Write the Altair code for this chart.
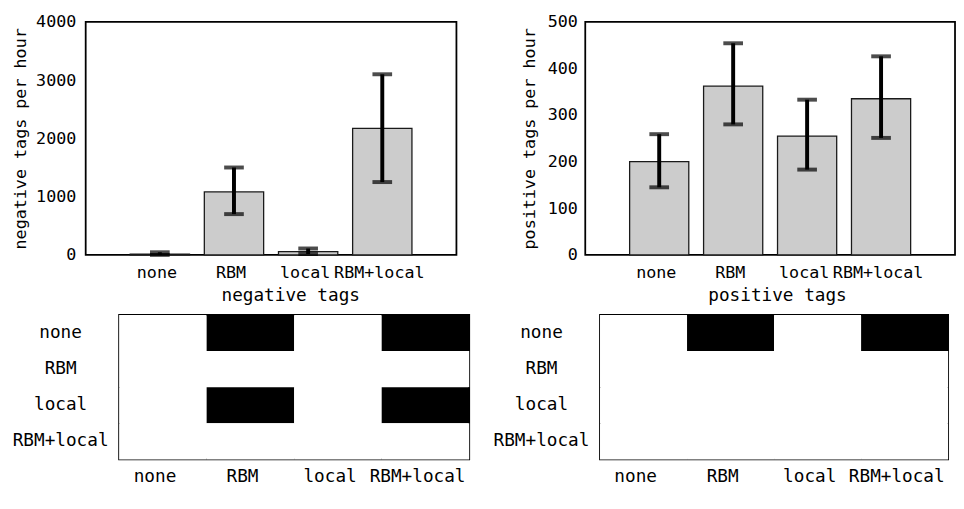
import altair as alt
import pandas as pd

categories = ["none", "RBM", "local", "RBM+local"]

neg_mean = [12, 1080, 55, 2170]
neg_lo = [0, 700, 15, 1250]
neg_hi = [45, 1500, 110, 3100]

pos_mean = [200, 362, 255, 335]
pos_lo = [145, 280, 183, 251]
pos_hi = [259, 454, 333, 426]

# significance matrices: rows x columns (1 = significant difference)
neg_sig = [
    [0, 1, 0, 1],
    [0, 0, 0, 0],
    [0, 1, 0, 1],
    [0, 0, 0, 0],
]
pos_sig = [
    [0, 1, 0, 1],
    [0, 0, 0, 0],
    [0, 0, 0, 0],
    [0, 0, 0, 0],
]

FONT = "DejaVu Sans Mono"
FS_LAB = 17
FS_XT = 18
FS_YT = 17
FS_BOT = 18


def bar_panel(mean, lo, hi, ymax, ystep, ytitle, xtitle, width, height, label_pad, extent, title_pad, title_x):
    df = pd.DataFrame({"cat": categories, "mean": mean, "lo": lo, "hi": hi})
    xscale = alt.Scale(paddingInner=0.2, paddingOuter=0.6)
    yvals = list(range(0, ymax + 1, ystep))
    xenc = alt.X(
        "cat:N", sort=categories, scale=xscale,
        axis=alt.Axis(title=xtitle, labelAngle=0, tickSize=0, labelPadding=10, labelOffset=-3,
                      titlePadding=6, domain=False, titleX=title_x,
                      labelFontSize=FS_LAB, titleFontSize=FS_XT),
    )
    yscale = alt.Scale(domain=[0, ymax], nice=False)
    yaxis = alt.Axis(title=ytitle, values=yvals, format="d", tickSize=0,
                     labelPadding=label_pad, minExtent=extent, maxExtent=extent,
                     titlePadding=title_pad, grid=False, domain=False,
                     labelFontSize=FS_LAB, titleFontSize=FS_YT)
    base = alt.Chart(df)
    bars = base.mark_bar(color="#cccccc", stroke="#1a1a1a", strokeWidth=1.3).encode(
        x=xenc, y=alt.Y("mean:Q", scale=yscale, axis=yaxis)
    )
    xn = alt.X("cat:N", sort=categories)
    rule = base.mark_rule(color="black", strokeWidth=4).encode(
        x=xn, y="lo:Q", y2="hi:Q"
    )
    cap_lo = base.mark_tick(color="black", size=20, thickness=4).encode(
        x=xn, y="lo:Q"
    )
    cap_hi = base.mark_tick(color="black", size=20, thickness=4).encode(
        x=xn, y="hi:Q"
    )
    return alt.layer(bars, rule, cap_lo, cap_hi).properties(width=width, height=height)


def sig_panel(matrix, width, height, label_pad):
    rows = []
    for i, r in enumerate(categories):
        for j, c in enumerate(categories):
            rows.append({"row": r, "col": c, "sig": matrix[i][j]})
    df = pd.DataFrame(rows)
    xscale = alt.Scale(paddingInner=0, paddingOuter=0)
    yscale = alt.Scale(paddingInner=0, paddingOuter=0)
    return alt.Chart(df).mark_rect().encode(
        x=alt.X("col:N", sort=categories, scale=xscale,
                axis=alt.Axis(title=None, labelAngle=0, tickSize=0, labelPadding=8, labelOffset=-8,
                              domain=False, labelFontSize=FS_BOT)),
        y=alt.Y("row:N", sort=categories, scale=yscale,
                axis=alt.Axis(title=None, tickSize=0, labelAlign="center", labelPadding=label_pad,
                              domain=False, labelFontSize=FS_BOT)),
        color=alt.Color("sig:O", scale=alt.Scale(domain=[0, 1], range=["white", "black"]), legend=None),
    ).properties(width=width, height=height)


def spacer():
    return alt.Chart(pd.DataFrame({"v": [0]})).mark_rule(opacity=0).encode(
        x=alt.value(0), y=alt.value(0), y2=alt.value(1)
    ).properties(width=1, height=1, view=alt.ViewBackground(stroke="transparent"))


neg_bar = bar_panel(neg_mean, neg_lo, neg_hi, 4000, 1000, "negative tags per hour", "negative tags",
                    377, 237, 10, 54, 3, 208)
pos_bar = bar_panel(pos_mean, pos_lo, pos_hi, 500, 100, "positive tags per hour", "positive tags",
                    376, 237, 8, 41, 7, 195)

neg_mat = sig_panel(neg_sig, 356, 147, 60)
pos_mat = sig_panel(pos_sig, 354, 147, 60)

top = alt.hconcat(spacer(), alt.hconcat(neg_bar, pos_bar, spacing=63), spacing=0)
bottom = alt.hconcat(spacer(), alt.hconcat(neg_mat, pos_mat, spacing=22), spacing=0)

chart = alt.vconcat(top, bottom, spacing=9).properties(
    padding=0
).configure_view(
    stroke="black", strokeWidth=1.8
).configure_axis(
    labelFont=FONT, labelColor="black",
    titleFont=FONT, titleColor="black", titleFontWeight="normal",
)

chart.save("out.html", embed_options={"renderer": "svg", "actions": False})
